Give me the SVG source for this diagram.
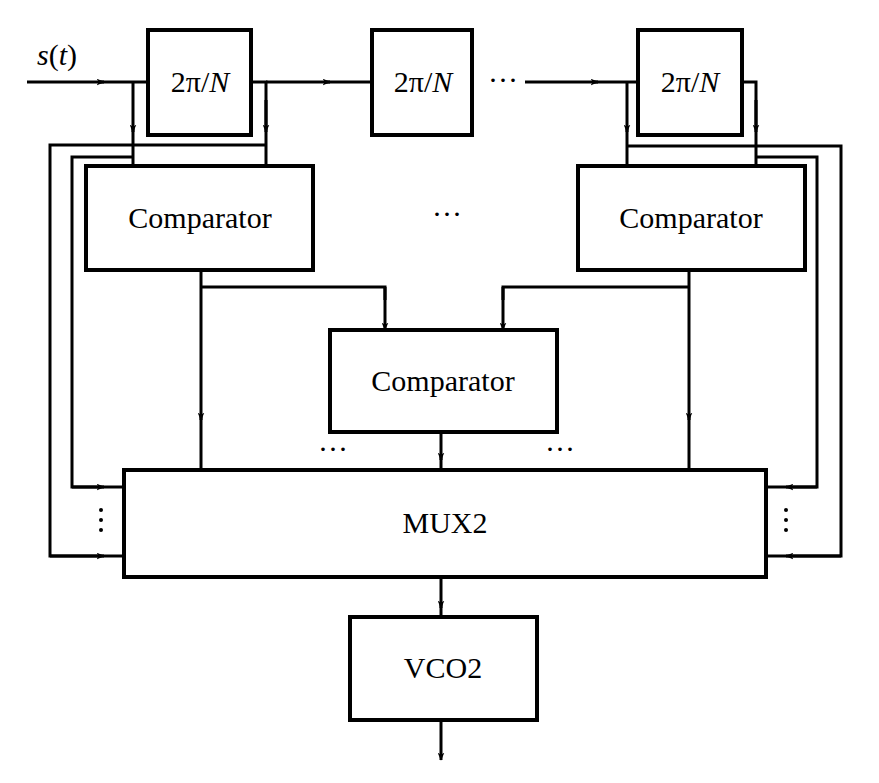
<svg xmlns="http://www.w3.org/2000/svg" width="879" height="783" viewBox="0 0 879 783">
<style>
.b{fill:#fff;stroke:#000;stroke-width:4}
.w{fill:none;stroke:#000;stroke-width:3}
.a{fill:none;stroke:#000;stroke-width:3;marker-end:url(#ar)}
text{font-family:"Liberation Serif",serif;fill:#000;text-anchor:middle}
.t{font-size:30px}
</style>
<defs>
<marker id="ar" viewBox="0 0 12 10" refX="11" refY="5" markerWidth="8" markerHeight="7" orient="auto" markerUnits="userSpaceOnUse">
<path d="M0,0 L12,5 L0,10 L3,5 z" fill="#000"/>
</marker>
</defs>
<g id="connectors">
<text x="57" y="65" font-size="30"><tspan font-style="italic">s</tspan>(<tspan font-style="italic">t</tspan>)</text>
<line class="a" x1="27" y1="82" x2="104" y2="82"/><line class="w" x1="100" y1="82" x2="148" y2="82"/>
<line class="a" x1="133" y1="82" x2="133" y2="132"/><line class="w" x1="133" y1="128" x2="133" y2="166"/>
<polyline class="w" points="251,82 266,82 266,166"/>
<line class="a" x1="266" y1="100" x2="266" y2="132"/>
<line class="a" x1="266" y1="82" x2="330" y2="82"/><line class="w" x1="326" y1="82" x2="372" y2="82"/>
<line class="a" x1="525" y1="82" x2="598" y2="82"/><line class="w" x1="594" y1="82" x2="638" y2="82"/>
<line class="a" x1="627" y1="82" x2="627" y2="132"/><line class="w" x1="627" y1="128" x2="627" y2="166"/>
<polyline class="w" points="742,82 756,82 756,166"/>
<line class="a" x1="756" y1="100" x2="756" y2="132"/>
<polyline class="w" points="266,145 50,145 50,556 124,556"/>
<line class="a" x1="50" y1="556" x2="104" y2="556"/>
<polyline class="w" points="133,157 72,157 72,487 124,487"/>
<line class="a" x1="72" y1="487" x2="104" y2="487"/>
<polyline class="w" points="627,146 841,146 841,556 766,556"/>
<line class="a" x1="841" y1="556" x2="786" y2="556"/>
<polyline class="w" points="756,157 817,157 817,487 766,487"/>
<line class="a" x1="817" y1="487" x2="786" y2="487"/>
<line class="a" x1="201" y1="270" x2="201" y2="420"/><line class="w" x1="201" y1="416" x2="201" y2="470"/>
<polyline class="w" points="201,287 385,287 385,300"/><line class="a" x1="385" y1="287" x2="385" y2="330"/>
<line class="a" x1="689" y1="270" x2="689" y2="420"/><line class="w" x1="689" y1="416" x2="689" y2="470"/>
<polyline class="w" points="689,287 503,287 503,300"/><line class="a" x1="503" y1="287" x2="503" y2="330"/>
<line class="a" x1="441" y1="432" x2="441" y2="460"/><line class="w" x1="441" y1="456" x2="441" y2="470"/>
<line class="a" x1="441" y1="577" x2="441" y2="608"/><line class="w" x1="441" y1="604" x2="441" y2="617"/>
<line class="a" x1="441" y1="720" x2="441" y2="760"/>
<text x="503" y="90" class="t">···</text>
<text x="447" y="224" class="t">···</text>
<text x="333" y="459" class="t">···</text>
<text x="560" y="459" class="t">···</text>
<g fill="#000"><circle cx="101" cy="510" r="2"/><circle cx="101" cy="520" r="2"/><circle cx="101" cy="530" r="2"/>
<circle cx="786" cy="510" r="2"/><circle cx="786" cy="520" r="2"/><circle cx="786" cy="530" r="2"/></g>
</g>
<g id="d1"><rect class="b" x="148" y="30" width="103" height="105"/><text x="200" y="92" font-size="30">2π/<tspan font-style="italic">N</tspan></text></g>
<g id="d2"><rect class="b" x="372" y="30" width="100" height="105"/><text x="423" y="92" font-size="30">2π/<tspan font-style="italic">N</tspan></text></g>
<g id="d3"><rect class="b" x="638" y="30" width="104" height="105"/><text x="690" y="92" font-size="30">2π/<tspan font-style="italic">N</tspan></text></g>
<g id="c1"><rect class="b" x="86" y="166" width="227" height="104"/><text x="200" y="228" class="t">Comparator</text></g>
<g id="c2"><rect class="b" x="578" y="166" width="227" height="104"/><text x="691" y="228" class="t">Comparator</text></g>
<g id="c3"><rect class="b" x="330" y="330" width="227" height="102"/><text x="443" y="391" class="t">Comparator</text></g>
<g id="mux"><rect class="b" x="124" y="470" width="642" height="107"/><text x="445" y="533" class="t">MUX2</text></g>
<g id="vco"><rect class="b" x="350" y="617" width="187" height="103"/><text x="443" y="678" class="t">VCO2</text></g>
</svg>
